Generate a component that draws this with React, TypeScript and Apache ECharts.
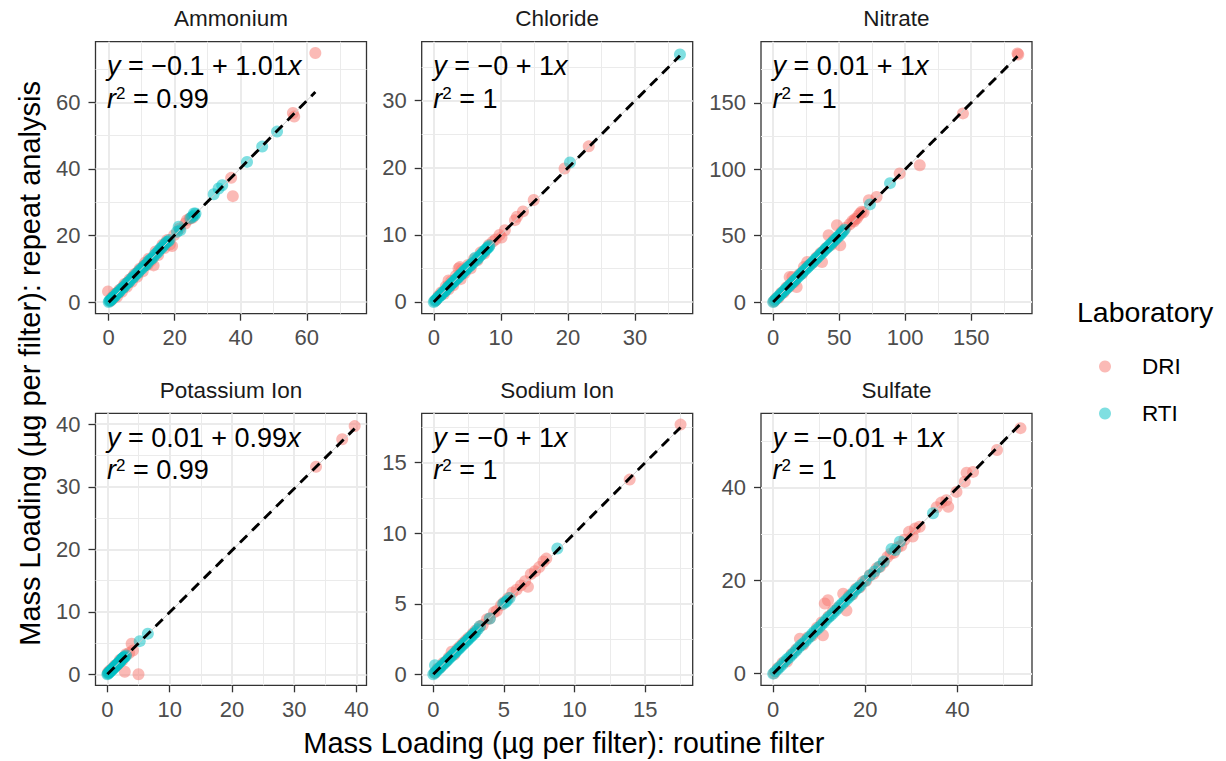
import React, { useEffect, useRef } from 'react';
import * as echarts from 'echarts';

// ---------- data ----------
const panelNames = ['Ammonium', 'Chloride', 'Nitrate', 'Potassium Ion', 'Sodium Ion', 'Sulfate'];
const labs = ['DRI', 'RTI'];

const xRanges = [[-4.0, 78.1], [-1.8, 38.6], [-9.2, 196], [-1.9, 41.6], [-0.82, 18.36], [-2.65, 56.2]];
const yRanges = [[-3.5, 78.2], [-1.75, 38.8], [-8.8, 196], [-1.76, 41.75], [-0.78, 18.5], [-2.5, 56.0]];
const majorTicks = [[0, 20, 40, 60], [0, 10, 20, 30], [0, 50, 100, 150], [0, 10, 20, 30, 40], [0, 5, 10, 15], [0, 20, 40]];
const minorTicks = [[10, 30, 50, 70], [5, 15, 25, 35], [25, 75, 125, 175], [5, 15, 25, 35], [2.5, 7.5, 12.5, 17.5], [10, 30, 50]];

const intercepts = ['\u22120.1', '\u22120', '0.01', '0.01', '\u22120', '\u22120.01'];
const slopes = ['1.01', '1', '1', '0.99', '1', '1'];
const rSquared = ['0.99', '1', '1', '0.99', '1', '1'];

const fitLines = [
  [[0, -0.1], [62.6, 63.1]],
  [[0, 0], [36.7, 36.7]],
  [[0, 0.01], [185, 185]],
  [[0, 0.01], [39.7, 39.3]],
  [[0, 0], [17.5, 17.5]],
  [[0, -0.01], [53.7, 53.7]],
];

const ammoniumDRI = [
  [-0.2, 3.2], [0.5, 0.3], [0.9, 1.3], [1.2, 1.0], [1.8, 2.4], [2.5, 1.6], [2.9, 3.0], [3.2, 3.6], [4.0, 3.1],
  [4.4, 4.6], [4.8, 5.4], [5.5, 4.6], [5.9, 6.0], [6.3, 6.8], [7.0, 6.1], [7.4, 7.6], [7.8, 8.4], [8.6, 7.6],
  [9.0, 9.2], [9.4, 10.0], [10.3, 9.2], [10.6, 10.9], [11.0, 11.8], [11.8, 11.2], [12.1, 13.0], [12.8, 12.4],
  [13.6, 11.0], [14.2, 15.2], [15.0, 14.1], [16.3, 17.2], [16.9, 16.2], [17.7, 18.6], [18.5, 17.3], [19.2, 16.8],
  [19.8, 20.1], [21.5, 22.1], [23.2, 23.6], [23.7, 24.6], [24.5, 25.0], [25.4, 25.3], [37.1, 37.3],
  [37.6, 31.8], [55.8, 56.8], [56.2, 55.7], [62.6, 74.8],
];
const ammoniumRTI = [
  [0, 0], [0.2, 0.3], [0.4, 0.5], [0.7, 0.6], [0.9, 0.8], [1.1, 1.2], [1.4, 1.5], [1.7, 1.6], [2.0, 1.9],
  [2.3, 2.4], [2.6, 2.7], [3.0, 2.9], [3.3, 3.2], [3.6, 3.7], [4.0, 4.1], [4.4, 4.3], [4.8, 4.7], [5.2, 5.3],
  [5.6, 5.7], [6.0, 5.9], [6.4, 6.3], [6.8, 6.9], [7.2, 7.3], [7.6, 7.5], [8.0, 8.1], [8.4, 8.5], [8.9, 8.8],
  [9.3, 9.4], [9.8, 9.9], [10.2, 10.2], [10.7, 10.8], [11.1, 11.0], [11.6, 11.5], [12.0, 12.2], [12.5, 12.7],
  [12.9, 12.9], [13.4, 13.3], [13.8, 14.0], [14.3, 14.5], [14.8, 14.9], [15.2, 15.5], [15.7, 16.1],
  [16.1, 16.3], [16.6, 16.9], [17.0, 17.4], [17.5, 18.0], [18.0, 18.2], [18.4, 18.6], [20.7, 21.1],
  [21.2, 22.6], [21.7, 21.6], [24.8, 25.2], [25.3, 25.6], [25.8, 26.6], [26.3, 26.6], [26.0, 26.0],
  [31.8, 32.4], [33.3, 34.1], [34.4, 35.1], [41.9, 42.1], [46.5, 46.7], [51.0, 51.2],
];

const chlorideDRI = [
  [0.3, 0.2], [0.7, 0.9], [1.1, 1.4], [1.5, 1.2], [1.8, 2.3], [2.2, 3.2], [2.2, 1.9], [2.6, 3.1], [2.9, 2.5],
  [3.3, 3.9], [3.7, 5.0], [3.9, 5.2], [4.2, 4.8], [4.0, 3.4], [4.6, 4.3], [5.1, 5.5], [5.5, 5.0], [6.0, 6.4],
  [6.5, 6.2], [7.0, 7.4], [7.5, 7.2], [8.2, 8.5], [8.8, 9.0], [9.2, 9.3], [9.8, 10.0], [10.1, 9.6],
  [10.6, 10.7], [12.1, 12.2], [12.4, 12.7], [13.3, 13.5], [14.9, 15.2], [19.5, 19.9], [23.1, 23.2],
];
const chlorideRTI = [
  [0, 0], [0.15, 0.15], [0.3, 0.3], [0.45, 0.45], [0.6, 0.6], [0.75, 0.8], [0.9, 0.9], [1.05, 1.0],
  [1.2, 1.2], [1.35, 1.4], [1.5, 1.5], [1.65, 1.6], [1.8, 1.8], [1.95, 2.0], [2.1, 2.2], [2.25, 2.3],
  [2.4, 2.4], [2.55, 2.6], [2.7, 2.8], [2.85, 2.9], [3.0, 3.0], [3.15, 3.2], [3.3, 3.4], [3.45, 3.5],
  [3.6, 3.6], [3.75, 3.8], [3.9, 4.0], [4.05, 4.1], [4.2, 4.2], [4.35, 4.4], [4.5, 4.6], [4.65, 4.7],
  [4.8, 4.8], [4.95, 5.0], [5.1, 5.2], [5.3, 5.3], [5.5, 5.5], [5.7, 5.7], [5.9, 5.9], [6.2, 6.6],
  [6.4, 6.3], [6.6, 6.5], [6.8, 6.8], [7.0, 7.0], [7.2, 7.2], [7.4, 7.5], [7.6, 7.6], [7.7, 7.8],
  [7.9, 7.9], [8.0, 8.1], [8.2, 8.2], [8.3, 8.4], [20.3, 20.8], [36.7, 36.9],
];

const nitrateDRI = [
  [0.5, 0.3], [2, 2.5], [4, 3.2], [6, 6.8], [8, 7.1], [10, 11], [12, 11.5], [12.5, 18.8], [14.6, 18.8],
  [16, 15], [17.8, 11.3], [20, 21], [22, 21.5], [23.3, 26.4], [25.8, 30.1], [27, 27.5], [30, 29.5],
  [33, 33.8], [37, 30.1], [36, 37], [40, 40.5], [42, 50.3], [44, 43], [46, 46.8], [48.3, 57.8],
  [50.8, 42.7], [52, 53], [55, 56], [58, 58.5], [60, 61], [61, 60.5], [62, 62.5], [63.3, 62.8], [64.5, 65],
  [65.8, 66.6], [67, 68], [68.5, 67.5], [72.5, 76.6], [78.3, 79.1], [95.8, 96.8], [111, 103], [143.7, 142],
  [185, 187.2], [185.6, 186.4],
];
const nitrateRTI = [
  [0, 0], [1, 1], [2, 2], [3, 3.1], [4, 4.1], [5, 5], [6, 6], [7, 7.1], [8, 8.1], [9, 9], [10, 10],
  [11, 11.1], [12, 12.1], [13, 13], [14, 14], [15, 15.1], [16, 16.2], [17, 17], [18, 18], [19, 19.1],
  [20, 20.1], [21, 21], [22, 22], [23, 23.1], [24, 24.2], [25, 25], [26, 26], [27, 27.1], [28, 28.1],
  [29, 29], [30, 30], [31, 31.1], [32, 32.2], [33, 33], [34, 34], [35, 35.1], [36, 36.1], [37, 37],
  [38, 38], [39, 39.1], [40, 40.2], [41, 41], [42, 42], [43, 43.1], [44, 44.1], [45, 45], [46, 46],
  [47, 47.1], [48, 48.2], [49, 49], [50, 50], [51, 51.1], [52, 52.1], [53, 53.2], [54, 54.5],
  [73.3, 73.5], [88.5, 89.5],
];

const potassiumDRI = [
  [0.1, 0.3], [0.4, 0.6], [0.8, 0.9], [1.2, 1.4], [1.6, 1.5], [2.0, 2.3], [2.4, 2.2], [2.8, 0.4],
  [3.0, 3.2], [3.5, 3.4], [3.9, 4.9], [4.1, 3.8], [5.0, 0.0], [33.5, 33.2], [37.7, 37.6], [39.7, 39.7],
];
const potassiumRTI = [
  [0, 0], [0.1, 0.1], [0.2, 0.2], [0.3, 0.3], [0.4, 0.4], [0.5, 0.5], [0.6, 0.6], [0.7, 0.7], [0.8, 0.8],
  [0.9, 0.9], [1.0, 1.0], [1.1, 1.1], [1.2, 1.2], [1.3, 1.3], [1.4, 1.4], [1.5, 1.5], [1.6, 1.6], [1.7, 1.7],
  [1.8, 1.8], [1.9, 1.9], [2.0, 2.0], [2.1, 2.1], [2.2, 2.2], [2.3, 2.4], [2.4, 2.5], [2.5, 2.6],
  [2.6, 2.7], [2.7, 2.7], [2.8, 2.8], [3.0, 3.0], [5.2, 5.3], [6.5, 6.5],
];

const sodiumDRI = [
  [0.1, 0.1], [0.3, 0.4], [0.5, 0.5], [0.7, 0.8], [0.9, 0.9], [1.1, 1.2], [1.3, 1.6], [1.5, 1.4], [1.7, 1.8],
  [1.9, 2.0], [2.1, 2.2], [2.3, 2.4], [2.5, 2.6], [2.8, 2.9], [3.0, 3.1], [3.3, 3.4], [3.5, 3.5], [3.8, 3.9],
  [4.0, 3.95], [4.3, 4.4], [4.5, 4.5], [4.8, 4.9], [5.0, 5.1], [5.3, 5.4], [5.6, 5.8], [5.9, 6.0], [6.2, 6.3],
  [6.5, 6.6], [6.7, 6.2], [6.9, 7.1], [7.2, 7.3], [7.5, 7.6], [7.8, 8.0], [8.0, 8.2], [13.9, 13.8], [17.5, 17.7],
];
const sodiumRTI = [
  [0, 0], [0.12, 0.64], [0.1, 0.1], [0.2, 0.2], [0.3, 0.3], [0.4, 0.4], [0.5, 0.5], [0.6, 0.6], [0.7, 0.7],
  [0.8, 0.8], [0.9, 0.9], [1.0, 1.0], [1.1, 1.1], [1.2, 1.2], [1.3, 1.3], [1.4, 1.4], [1.5, 1.5], [1.6, 1.6],
  [1.7, 1.7], [1.8, 1.8], [1.9, 1.9], [2.0, 2.0], [2.1, 2.1], [2.2, 2.2], [2.3, 2.3], [2.4, 2.4], [2.5, 2.5],
  [2.6, 2.6], [2.7, 2.7], [2.8, 2.8], [2.9, 2.9], [3.0, 3.0], [3.15, 3.2], [3.3, 3.4], [4.0, 3.95],
  [4.95, 5.0], [5.1, 5.1], [5.2, 5.2], [5.4, 5.4], [8.78, 8.92],
];

const sulfateDRI = [
  [0.2, 0.1], [1, 1.2], [2, 2.3], [3, 2.6], [4, 4.2], [5, 5.2], [5.8, 7.5], [6.5, 6.2], [7.5, 7.8],
  [8.5, 8.2], [9.5, 9.9], [10.8, 8.25], [11.2, 15.1], [11.9, 15.8], [10.5, 11], [12, 12.3], [13, 13.5],
  [14, 14.2], [15.2, 17.2], [15.9, 13.6], [16.5, 16.8], [17.2, 17.0], [18, 18.3], [18.8, 18.6], [19.5, 19.8],
  [20.2, 20.0], [21, 21.2], [21.8, 21.5], [22.5, 22.7], [23.2, 23.0], [24, 23.9], [24.8, 25.1], [25.5, 25.8],
  [26.2, 26.0], [27, 27.2], [27.8, 27.5], [28.5, 28.8], [29.5, 30.5], [30.3, 29.5], [30.8, 31.2], [31.8, 31.6],
  [35.5, 35.8], [36.5, 36.8], [37.6, 37.3], [38.0, 35.9], [39.8, 39.1], [41.6, 41.3], [42.0, 43.2], [43.4, 43.4],
  [48.6, 48.1], [53.7, 52.8],
];
const sulfateRTI = [
  [0, 0], [0.5, 0.5], [1, 1], [1.5, 1.5], [2, 2], [2.5, 2.6], [3, 3.1], [3.5, 3.5], [4, 4], [4.5, 4.5],
  [5, 5], [5.5, 5.6], [6, 6.1], [6.5, 6.5], [7, 7], [7.5, 7.5], [8, 8], [8.5, 8.6], [9, 9.1], [9.5, 9.5],
  [10, 10], [10.5, 10.5], [11, 11], [11.5, 11.6], [12, 12.1], [12.5, 12.5], [13, 13], [13.5, 13.5],
  [14, 14], [14.5, 14.6], [15, 15.1], [15.5, 15.5], [16, 16], [16.5, 16.5], [17, 17], [17.5, 17.6],
  [18, 18.1], [18.5, 18.5], [19, 19], [20, 20], [21, 21.1], [22, 22], [23, 23], [24, 24.1],
  [25.7, 26.8], [26.5, 26.6], [27.5, 28.4], [34.7, 34.5],
];

const dataDRI = [ammoniumDRI, chlorideDRI, nitrateDRI, potassiumDRI, sodiumDRI, sulfateDRI];
const dataRTI = [ammoniumRTI, chlorideRTI, nitrateRTI, potassiumRTI, sodiumRTI, sulfateRTI];

// ---------- layout / style ----------
const FONT = '"Liberation Sans", Arial, Helvetica, sans-serif';
const colLefts = [95.5, 421.7, 761];
const rowTops = [41.7, 413.3];
const panelW = 271;
const panelH = 272;
const labColors = ['#F8766D', '#00BFC4'];

function buildOption() {
  const grid: any[] = [];
  const xAxis: any[] = [];
  const yAxis: any[] = [];
  const series: any[] = [];
  const graphic: any[] = [];

  panelNames.forEach((name, i) => {
    const col = i % 3;
    const row = Math.floor(i / 3);
    const left = colLefts[col];
    const top = rowTops[row];
    grid.push({
      left, top, width: panelW, height: panelH, show: true,
      borderColor: '#333333', borderWidth: 1.3, backgroundColor: '#ffffff',
      containLabel: false, outerBoundsMode: 'none',
    });
    xAxis.push({
      type: 'value', gridIndex: i, position: 'top', min: xRanges[i][0], max: xRanges[i][1],
      axisLine: { show: false, onZero: false }, axisTick: { show: false, customValues: minorTicks[i] },
      axisLabel: { show: false }, splitLine: { show: true, lineStyle: { color: '#EBEBEB', width: 1 } },
    });
    xAxis.push({
      type: 'value', gridIndex: i, position: 'bottom', min: xRanges[i][0], max: xRanges[i][1],
      axisLine: { show: false, onZero: false },
      axisTick: { show: true, length: 7, customValues: majorTicks[i], lineStyle: { color: '#333333', width: 1.3 } },
      axisLabel: { show: true, customValues: majorTicks[i], color: '#4D4D4D', fontSize: 22, fontFamily: FONT, margin: 13 },
      splitLine: { show: true, lineStyle: { color: '#EBEBEB', width: 2 } },
    });
    yAxis.push({
      type: 'value', gridIndex: i, position: 'right', min: yRanges[i][0], max: yRanges[i][1],
      axisLine: { show: false, onZero: false }, axisTick: { show: false, customValues: minorTicks[i] },
      axisLabel: { show: false }, splitLine: { show: true, lineStyle: { color: '#EBEBEB', width: 1 } },
    });
    yAxis.push({
      type: 'value', gridIndex: i, position: 'left', min: yRanges[i][0], max: yRanges[i][1],
      axisLine: { show: false, onZero: false },
      axisTick: { show: true, length: 7, customValues: majorTicks[i], lineStyle: { color: '#333333', width: 1.3 } },
      axisLabel: { show: true, customValues: majorTicks[i], color: '#4D4D4D', fontSize: 22, fontFamily: FONT, margin: 15 },
      splitLine: { show: true, lineStyle: { color: '#EBEBEB', width: 2 } },
    });

    const ax = 2 * i + 1;
    series.push({
      type: 'scatter', name: labs[0], xAxisIndex: ax, yAxisIndex: ax, data: dataDRI[i],
      symbolSize: 12, itemStyle: { color: labColors[0], opacity: 0.5 }, z: 2, silent: true,
    });
    series.push({
      type: 'scatter', name: labs[1], xAxisIndex: ax, yAxisIndex: ax, data: dataRTI[i],
      symbolSize: 12, itemStyle: { color: labColors[1], opacity: 0.5 }, z: 2, silent: true,
    });
    series.push({
      type: 'line', xAxisIndex: ax, yAxisIndex: ax, data: fitLines[i], symbol: 'none',
      lineStyle: { color: '#CCCCCC', width: 1 }, z: 3, silent: true,
    });
    series.push({
      type: 'line', xAxisIndex: ax, yAxisIndex: ax, data: fitLines[i], symbol: 'none',
      lineStyle: { color: '#000000', width: 2.9, type: [10, 7] }, z: 4, silent: true,
    });

    graphic.push({
      type: 'text', x: left + panelW / 2, y: top - 22.8, z: 10,
      style: { text: name, fill: '#1A1A1A', fontSize: 22.5, fontFamily: FONT, align: 'center', verticalAlign: 'middle' },
    });
    const rich = {
      i: { fontStyle: 'italic', fontSize: 27, fontFamily: FONT, lineHeight: 27, fill: '#000' },
      n: { fontSize: 27, fontFamily: FONT, lineHeight: 27, fill: '#000' },
      s: { fontSize: 17, fontFamily: FONT, lineHeight: 1, verticalAlign: 'top', fill: '#000' },
    };
    graphic.push({
      type: 'text', x: left + 11.5, y: top + 24.6, z: 10,
      style: { text: `{i|y}{n| = ${intercepts[i]} + ${slopes[i]}}{i|x}`, rich, align: 'left', verticalAlign: 'middle' },
    });
    graphic.push({
      type: 'text', x: left + 11.5, y: top + 57, z: 10,
      style: { text: `{i|r}{s|2}{n| = ${rSquared[i]}}`, rich, align: 'left', verticalAlign: 'middle' },
    });
  });

  graphic.push({
    type: 'text', x: 563.9, y: 743, z: 10,
    style: { text: 'Mass Loading (\u00b5g per filter): routine filter', fill: '#000', fontSize: 29, fontFamily: FONT, align: 'center', verticalAlign: 'middle' },
  });
  graphic.push({
    type: 'text', x: 30, y: 363.4, rotation: Math.PI / 2, z: 10,
    style: { text: 'Mass Loading (\u00b5g per filter): repeat analysis', fill: '#000', fontSize: 29, fontFamily: FONT, align: 'center', verticalAlign: 'middle' },
  });
  graphic.push({
    type: 'text', x: 1077, y: 311.5, z: 10,
    style: { text: 'Laboratory', fill: '#000', fontSize: 28.5, fontFamily: FONT, align: 'left', verticalAlign: 'middle' },
  });

  return {
    animation: false,
    backgroundColor: '#ffffff',
    textStyle: { fontFamily: FONT },
    grid, xAxis, yAxis, series, graphic,
    legend: {
      data: labs.map((l, k) => ({ name: l, itemStyle: { color: labColors[k], opacity: 0.5 } })),
      orient: 'vertical', left: 1094, top: 350, icon: 'circle', itemWidth: 12, itemHeight: 12, itemGap: 24,
      selectedMode: false,
      textStyle: { fontSize: 22.5, color: '#000', fontFamily: FONT, padding: [0, 0, 0, 26] },
    },
  };
}

export default function App() {
  const ref = useRef<HTMLDivElement>(null);
  useEffect(() => {
    if (!ref.current) return;
    const chart = echarts.init(ref.current, null, { renderer: 'svg' });
    chart.setOption(buildOption() as any);
    return () => chart.dispose();
  }, []);
  return (
    <div
      ref={ref}
      style={{ position: 'fixed', left: 0, top: 0, width: 1226, height: 761, background: '#fff' }}
    />
  );
}
